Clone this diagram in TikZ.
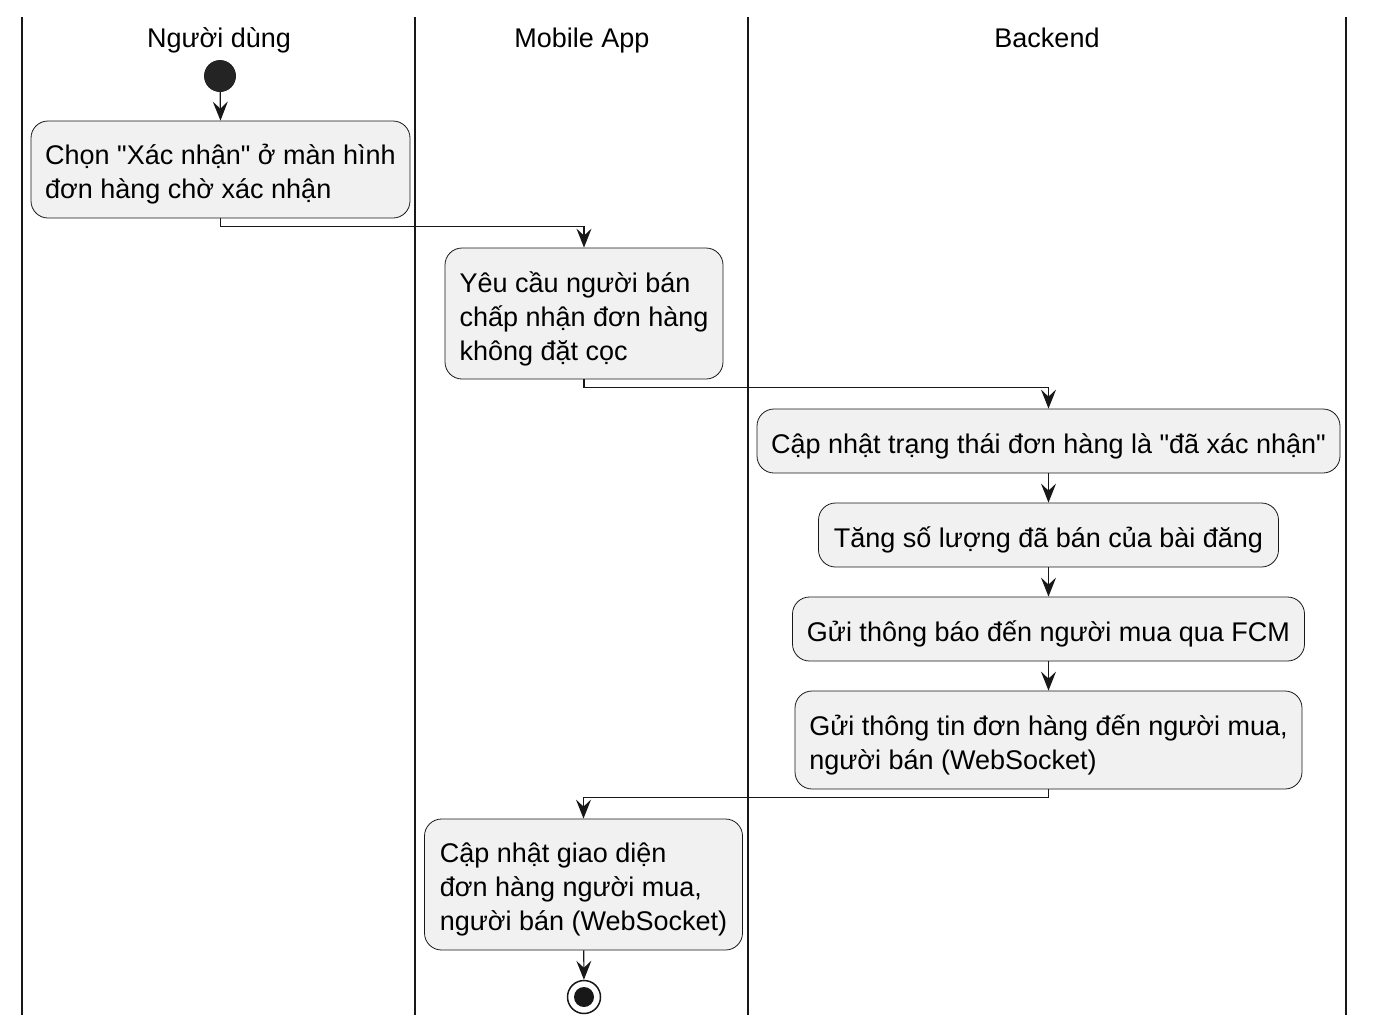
\documentclass[tikz,border=0pt]{standalone}
\usepackage{fontspec}
\setmainfont{Liberation Sans}[Ligatures=TeXOff]
\usetikzlibrary{arrows.meta}
\definecolor{boxfill}{HTML}{F1F1F1}
\definecolor{ink}{HTML}{181818}
\begin{document}
\begin{tikzpicture}[x=1pt,y=-1pt,
  act/.style={draw=ink,fill=boxfill,line width=0.8pt,rounded corners=17pt,inner sep=0pt},
  acttext/.style={align=left,inner sep=0pt,font=\fontsize{27}{34}\selectfont},
  lanetitle/.style={font=\fontsize{27}{34}\selectfont,inner sep=0pt,anchor=base},
  lane/.style={draw=ink,line width=2pt},
  flow/.style={draw=ink,line width=1.2pt,-{Stealth[length=19pt,width=15pt,inset=7pt]}}]
\useasboundingbox (0,0) rectangle (1373,1031);
% swimlane lines
\draw[lane] (22,17) -- (22,1015);
\draw[lane] (415,17) -- (415,1015);
\draw[lane] (748,17) -- (748,1015);
\draw[lane] (1346,17) -- (1346,1015);
% lane titles
\node[lanetitle] (t1) at (219,47) {Người dùng};
\node[lanetitle] (t2) at (582,47) {Mobile App};
\node[lanetitle] (t3) at (1047,47) {Backend};
% start
\node[circle,fill=ink!95,minimum size=32pt,inner sep=0pt] (start) at (220,76) {};
% activity boxes
\node[act,minimum width=379pt,minimum height=97pt] (b1) at (220.5,169.5) {};
\node[act,minimum width=278pt,minimum height=131pt] (b2) at (584,313.5) {};
\node[act,minimum width=583pt,minimum height=64pt] (b3) at (1048.5,441) {};
\node[act,minimum width=460pt,minimum height=64pt] (b4) at (1048.5,535) {};
\node[act,minimum width=512pt,minimum height=64pt] (b5) at (1048.5,629) {};
\node[act,minimum width=507pt,minimum height=98pt] (b6) at (1048.5,740) {};
\node[act,minimum width=318pt,minimum height=131pt] (b7) at (583.5,884.5) {};
% activity texts
\node[acttext] (b1t) at ([yshift=-5pt]b1.center) {Chọn "Xác nhận" ở màn hình\\đơn hàng chờ xác nhận};
\node[acttext] (b2t) at ([yshift=-5pt]b2.center) {Yêu cầu người bán\\chấp nhận đơn hàng\\không đặt cọc};
\node[acttext] (b3t) at ([yshift=-5pt]b3.center) {Cập nhật trạng thái đơn hàng là "đã xác nhận"};
\node[acttext] (b4t) at ([yshift=-5pt]b4.center) {Tăng số lượng đã bán của bài đăng};
\node[acttext] (b5t) at ([yshift=-5pt]b5.center) {Gửi thông báo đến người mua qua FCM};
\node[acttext] (b6t) at ([yshift=-5pt]b6.center) {Gửi thông tin đơn hàng đến người mua,\\người bán (WebSocket)};
\node[acttext] (b7t) at ([yshift=-5pt]b7.center) {Cập nhật giao diện\\đơn hàng người mua,\\người bán (WebSocket)};
% end
\node[circle,draw=ink,line width=1.5pt,fill=white,minimum size=33pt,inner sep=0pt] (stop) at (584,997) {};
\node[circle,fill=ink,minimum size=20pt,inner sep=0pt] (stopdot) at (stop.center) {};
% connectors
\draw[flow] (start) -- (b1.north);
\draw[flow] (b1.south) -- ++(0,8) -| (b2.north);
\draw[flow] (b2.south) -- ++(0,8) -| (b3.north);
\draw[flow] (b3) -- (b4);
\draw[flow] (b4) -- (b5);
\draw[flow] (b5) -- (b6);
\draw[flow] (b6.south) -- ++(0,8) -| (b7.north);
\draw[flow] (b7) -- (stop);
\end{tikzpicture}
\end{document}
